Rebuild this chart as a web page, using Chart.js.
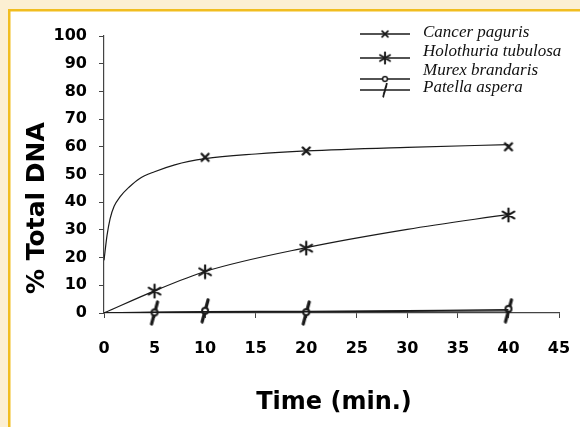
<!DOCTYPE html>
<html>
<head>
<meta charset="utf-8">
<script src="https://cdn.jsdelivr.net/npm/chart.js@4.4.1/dist/chart.umd.min.js"></script>
<style>
  html, body { margin: 0; padding: 0; background: #fff; }
  #wrap { width: 580px; height: 427px; }
</style>
</head>
<body>
<div id="wrap"><canvas id="dnaChart" width="580" height="427"></canvas></div>
<script>
// Measured points (time in min, % total DNA)
const cancerTimes = [10, 20, 40];
const cancerPct = [56.2, 58.5, 60.0];
const holoTimes = [5, 10, 20, 40];
const holoPct = [7.9, 14.9, 23.4, 35.4];
const murexTimes = [5, 10, 20, 40];
const murexPct = [0.2, 0.8, 0.3, 1.5];
const patellaTimes = [5, 10, 20, 40];
const patellaPct = [0, 0.8, 0, 0.8];

// Trend lines
const cancerFitT = [0, 0.3, 0.6, 1, 1.6, 2.5, 3.5, 5, 7, 10, 15, 20, 30, 40];
const cancerFitPct = [19, 28, 34, 38.5, 42, 45.5, 48.5, 51, 53.5, 55.7, 57.4, 58.5, 59.8, 60.8];
const holoFitT = [0, 5, 10, 20, 30, 40];
const holoFitPct = [0, 8, 15, 23.6, 30.2, 35.6];
const murexFitT = [0, 5, 10, 20, 40];
const murexFitPct = [0, 0.3, 0.5, 0.6, 1.2];
const patellaFitT = [0, 10, 20, 40];
const patellaFitPct = [0, 0.3, 0.4, 0.8];

const xTicks = [0, 5, 10, 15, 20, 25, 30, 35, 40, 45];
const yTicks = [0, 10, 20, 30, 40, 50, 60, 70, 80, 90, 100];

const legendNames = ['Cancer paguris', 'Holothuria tubulosa', 'Murex brandaris', 'Patella aspera'];

const INK = '#1a1a1a';

// Marker images
function makeMarker(w, h, draw) {
    const c = document.createElement('canvas');
    c.width = w; c.height = h;
    const g = c.getContext('2d');
    g.strokeStyle = INK;
    g.fillStyle = '#fff';
    g.lineCap = 'round';
    draw(g);
    return c;
}
const xMark = makeMarker(12, 12, g => {
    g.lineWidth = 2.4;
    g.beginPath();
    g.moveTo(2.5, 2.5); g.lineTo(9.5, 9.5);
    g.moveTo(9.5, 2.5); g.lineTo(2.5, 9.5);
    g.stroke();
});
const starMark = makeMarker(16, 16, g => {
    g.lineWidth = 2.2;
    g.beginPath();
    g.moveTo(8, 1.5); g.lineTo(8, 14.5);
    g.moveTo(2.2, 4.6); g.lineTo(13.8, 11.4);
    g.moveTo(13.8, 4.6); g.lineTo(2.2, 11.4);
    g.stroke();
});
const circleMark = makeMarker(10, 10, g => {
    g.lineWidth = 2;
    g.beginPath();
    g.arc(5, 5, 3, 0, Math.PI * 2);
    g.fill();
    g.stroke();
});
const slashMark = makeMarker(12, 26, g => {
    g.lineWidth = 3.2;
    g.beginPath();
    g.moveTo(3, 24); g.lineTo(9, 2);
    g.stroke();
});
const legendMarks = [xMark, starMark, circleMark, slashMark];

function pts(xs, ys) {
    return xs.map((x, i) => ({ x: x, y: ys[i] }));
}

function fitSet(xs, ys) {
    return {
        data: pts(xs, ys),
        showLine: true,
        borderColor: INK,
        borderWidth: 1.2,
        pointRadius: 0,
        cubicInterpolationMode: 'monotone',
        fill: false
    };
}

function markSet(xs, ys, img) {
    return {
        data: pts(xs, ys),
        showLine: false,
        clip: false,
        pointStyle: img,
        pointRadius: 6,
        borderColor: INK,
        backgroundColor: INK
    };
}

// Page background with the yellow frame
const framePlugin = {
    id: 'frame',
    beforeDraw(chart) {
        const ctx = chart.ctx;
        ctx.save();
        ctx.fillStyle = '#ffffff';
        ctx.fillRect(0, 0, 580, 427);
        ctx.fillStyle = '#fcefd2';
        ctx.fillRect(0, 0, 580, 9);
        ctx.fillRect(0, 0, 8, 427);
        ctx.fillStyle = '#f1bd1f';
        ctx.fillRect(8, 9, 572, 2.5);
        ctx.fillRect(8, 9, 2.5, 418);
        ctx.restore();
    }
};

// Axis titles and legend
const labelsPlugin = {
    id: 'labels',
    afterDraw(chart) {
        const ctx = chart.ctx;
        ctx.save();
        ctx.fillStyle = '#000';
        ctx.font = 'bold 25px "DejaVu Sans"';
        ctx.textAlign = 'center';
        ctx.textBaseline = 'alphabetic';
        ctx.translate(44, 208);
        ctx.rotate(-Math.PI / 2);
        ctx.fillText('% Total DNA', 0, 0);
        ctx.restore();

        ctx.save();
        ctx.fillStyle = '#000';
        ctx.font = 'bold 24px "DejaVu Sans"';
        ctx.textAlign = 'center';
        ctx.textBaseline = 'alphabetic';
        ctx.fillText('Time (min.)', 334, 409);
        ctx.restore();

        // legend (keys sit a little below their labels, as in the original)
        const lineY = [34, 58, 79, 90];
        const textY = [33, 52, 71, 88];
        ctx.save();
        ctx.strokeStyle = INK;
        ctx.lineWidth = 1.4;
        ctx.fillStyle = '#111';
        ctx.font = 'italic 17px "Liberation Serif"';
        ctx.textAlign = 'left';
        ctx.textBaseline = 'middle';
        legendNames.forEach((name, i) => {
            ctx.beginPath();
            ctx.moveTo(360, lineY[i]);
            ctx.lineTo(410, lineY[i]);
            ctx.stroke();
            const m = legendMarks[i];
            const h = i === 3 ? 15 : m.height - 2;
            const w = i === 3 ? 7 : m.width - 2;
            ctx.drawImage(m, 385 - w / 2, lineY[i] - h / 2, w, h);
            ctx.fillText(name, 423, textY[i]);
        });
        ctx.restore();
    }
};

const ctx = document.getElementById('dnaChart').getContext('2d');
const dnaChart = new Chart(ctx, {
    type: 'scatter',
    data: {
        datasets: [
            fitSet(cancerFitT, cancerFitPct),
            fitSet(holoFitT, holoFitPct),
            fitSet(murexFitT, murexFitPct),
            fitSet(patellaFitT, patellaFitPct),
            markSet(cancerTimes, cancerPct, xMark),
            markSet(holoTimes, holoPct, starMark),
            markSet(murexTimes, murexPct, circleMark),
            markSet(patellaTimes, patellaPct, slashMark)
        ]
    },
    options: {
        responsive: false,
        animation: false,
        devicePixelRatio: 1,
        layout: { padding: { top: 36, right: 21, left: 0, bottom: 0 } },
        plugins: { legend: { display: false }, tooltip: { enabled: false } },
        scales: {
            x: {
                type: 'linear',
                min: 0,
                max: 45,
                afterBuildTicks: s => { s.ticks = xTicks.map(v => ({ value: v })); },
                afterFit: s => { s.height = 114; s.paddingLeft = 0; s.paddingRight = 0; },
                ticks: { color: '#000', padding: 21, font: { family: 'DejaVu Sans', weight: 'bold', size: 16 } },
                grid: { drawOnChartArea: false, tickLength: 5, color: '#444', lineWidth: 1 },
                border: { color: '#444', width: 1.2 }
            },
            y: {
                min: 0,
                max: 100,
                afterBuildTicks: s => { s.ticks = yTicks.map(v => ({ value: v })); },
                afterFit: s => { s.width = 104; },
                ticks: { color: '#000', padding: 12, font: { family: 'DejaVu Sans', weight: 'bold', size: 16 } },
                grid: { drawOnChartArea: false, tickLength: 5, color: '#444', lineWidth: 1 },
                border: { color: '#444', width: 1.2 }
            }
        }
    },
    plugins: [framePlugin, labelsPlugin]
});
</script>
</body>
</html>
